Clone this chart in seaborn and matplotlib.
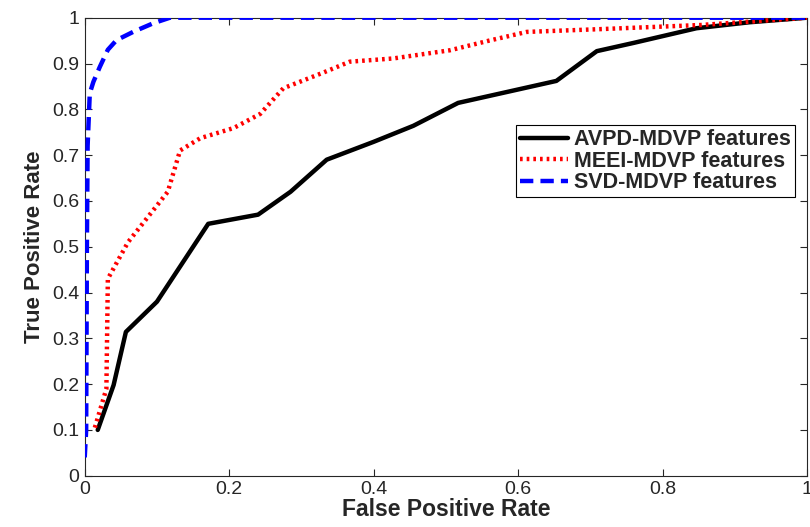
import matplotlib
matplotlib.use('Agg')
import matplotlib.pyplot as plt
import seaborn as sns

# ROC curves
avpd_fpr = [0.018, 0.04, 0.057, 0.10, 0.171, 0.24, 0.285, 0.335, 0.40, 0.455, 0.517, 0.653, 0.709, 0.76, 0.847, 0.92, 1.0]
avpd_tpr = [0.10, 0.198, 0.314, 0.38, 0.55, 0.57, 0.62, 0.69, 0.729, 0.764, 0.814, 0.862, 0.927, 0.945, 0.977, 0.99, 1.0]

meei_fpr = [0.014, 0.03, 0.032, 0.06, 0.09, 0.115, 0.132, 0.16, 0.206, 0.243, 0.275, 0.33, 0.367, 0.427, 0.506, 0.56, 0.612, 0.713, 0.852, 1.0]
meei_tpr = [0.105, 0.19, 0.43, 0.51, 0.57, 0.62, 0.71, 0.737, 0.759, 0.79, 0.846, 0.88, 0.904, 0.911, 0.929, 0.95, 0.969, 0.975, 0.984, 1.0]

svd_fpr = [0.0, 0.002, 0.003, 0.004, 0.007, 0.012, 0.021, 0.032, 0.044, 0.067, 0.095, 0.118, 1.0]
svd_tpr = [0.04, 0.10, 0.50, 0.72, 0.835, 0.86, 0.893, 0.93, 0.951, 0.969, 0.988, 1.0, 1.0]

labels = ['AVPD-MDVP features', 'MEEI-MDVP features', 'SVD-MDVP features']
xticks = [0, 0.2, 0.4, 0.6, 0.8, 1]
yticks = [0, 0.1, 0.2, 0.3, 0.4, 0.5, 0.6, 0.7, 0.8, 0.9, 1]

sns.set_style('ticks')
plt.rcParams['font.family'] = ['Liberation Sans', 'DejaVu Sans']

fig = plt.figure(figsize=(8.1, 5.27), dpi=100)
ax = fig.add_axes([0.1046, 0.0973, 0.8917, 0.8691])

sns.lineplot(x=avpd_fpr, y=avpd_tpr, sort=False, color='black', lw=3.2,
             label=labels[0], ax=ax, zorder=3)
sns.lineplot(x=meei_fpr, y=meei_tpr, sort=False, color='#ff0000', lw=3.2,
             linestyle=(0, (0.6, 0.9)), label=labels[1], ax=ax, zorder=4)
sns.lineplot(x=svd_fpr, y=svd_tpr, sort=False, color='#0000ff', lw=3.2,
             linestyle=(0, (3.0, 1.6)), label=labels[2], ax=ax, zorder=5)

ax.set_xlim(0, 1)
ax.set_ylim(0, 1)
ax.set_xticks(xticks)
ax.set_xticklabels(['%g' % t for t in xticks])
ax.set_yticks(yticks)
ax.set_yticklabels(['%g' % t for t in yticks])
ax.tick_params(direction='in', top=True, right=True, labelsize=14, length=5, width=0.8, pad=4)
for s in ax.spines.values():
    s.set_linewidth(0.8)

ax.set_xlabel('False Positive Rate', fontsize=16.5, fontweight='bold', labelpad=0)
ax.set_ylabel('True Positive Rate', fontsize=16, fontweight='bold', labelpad=5)

leg = ax.legend(loc='upper left', bbox_to_anchor=(0.597, 0.766), frameon=True, fancybox=False,
                prop={'size': 15.5, 'weight': 'bold'}, handlelength=2.2, borderpad=0.2,
                labelspacing=0.02, handletextpad=0.3, borderaxespad=0)
leg.get_frame().set_edgecolor('black')
leg.get_frame().set_linewidth(0.8)
leg.get_frame().set_alpha(1)

fig.savefig('out.png', dpi=100)
